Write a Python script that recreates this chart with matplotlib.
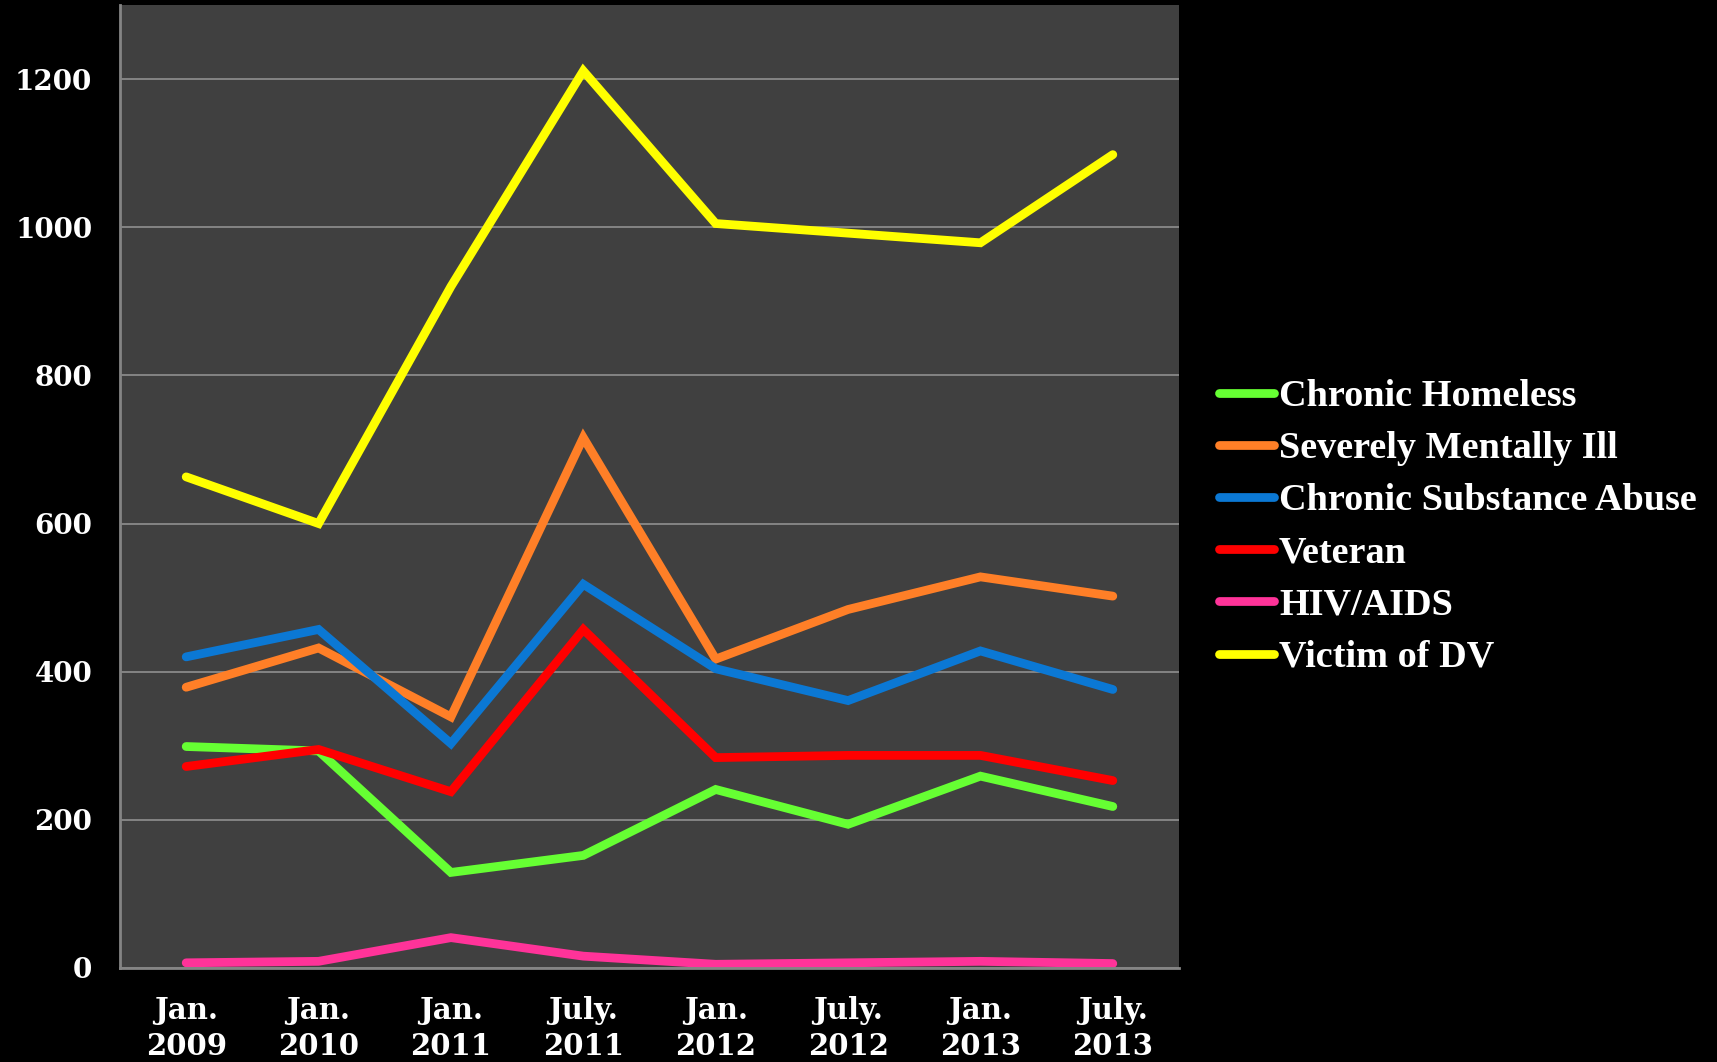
import matplotlib
matplotlib.use("Agg")
import matplotlib.pyplot as plt

categories = ["Jan.\n2009", "Jan.\n2010", "Jan.\n2011", "July.\n2011",
              "Jan.\n2012", "July.\n2012", "Jan.\n2013", "July.\n2013"]
chronic_homeless = [299, 293, 129, 152, 241, 194, 259, 218]
severely_mentally_ill = [379, 432, 339, 716, 417, 484, 528, 502]
chronic_substance_abuse = [420, 457, 303, 518, 404, 361, 428, 376]
veteran = [272, 295, 238, 457, 284, 287, 287, 253]
hiv_aids = [7, 9, 41, 16, 5, 7, 9, 6]
victim_of_dv = [663, 600, 920, 1211, 1005, 992, 979, 1098]

series = [
    ("Chronic Homeless", chronic_homeless, "#66ff33"),
    ("Severely Mentally Ill", severely_mentally_ill, "#ff7f27"),
    ("Chronic Substance Abuse", chronic_substance_abuse, "#0b78d4"),
    ("Veteran", veteran, "#ff0000"),
    ("HIV/AIDS", hiv_aids, "#ff3399"),
    ("Victim of DV", victim_of_dv, "#ffff00"),
]

fig = plt.figure(figsize=(17.17, 10.62), dpi=100, facecolor="black")
ax = fig.add_axes([120/1717, 1-968/1062, (1179-120)/1717, (968-5)/1062])
ax.set_facecolor("#404040")

x = list(range(len(categories)))
for name, vals, col in series:
    ax.plot(x, vals, color=col, lw=6.3, label=name, solid_capstyle="round",
            solid_joinstyle="miter")

ax.set_xlim(-0.5, len(categories) - 0.5)
ax.set_ylim(0, 1300)
ax.set_yticks(range(0, 1201, 200))
ax.set_xticks(x)
ax.set_xticklabels(categories, fontfamily="DejaVu Serif", fontweight="bold",
                   fontsize=21, color="white", linespacing=1.3)
ax.tick_params(axis="y", length=0, pad=20, labelsize=20, labelcolor="white")
ax.tick_params(axis="x", length=0, pad=20)
for lbl in ax.get_yticklabels():
    lbl.set_fontfamily("DejaVu Serif")
    lbl.set_fontweight("bold")
ax.grid(axis="y", color="#8a8a8a", lw=1.3)
ax.set_axisbelow(True)
for s in ["top", "right"]:
    ax.spines[s].set_visible(False)
for s in ["left", "bottom"]:
    ax.spines[s].set_color("#858585")
    ax.spines[s].set_linewidth(2)

leg = ax.legend(loc="center left", bbox_to_anchor=(1219/1717, 1-527/1062),
                bbox_transform=fig.transFigure, frameon=False,
                prop={"family": "Liberation Serif", "weight": "bold", "size": 27.5},
                handlelength=1.45, handletextpad=0.12, labelspacing=0.45,
                borderpad=0, borderaxespad=0)
for t in leg.get_texts():
    t.set_color("white")
for h in leg.get_lines():
    h.set_linewidth(6.3)
    h.set_solid_capstyle("round")

fig.savefig("out.png", dpi=100, facecolor="black")
